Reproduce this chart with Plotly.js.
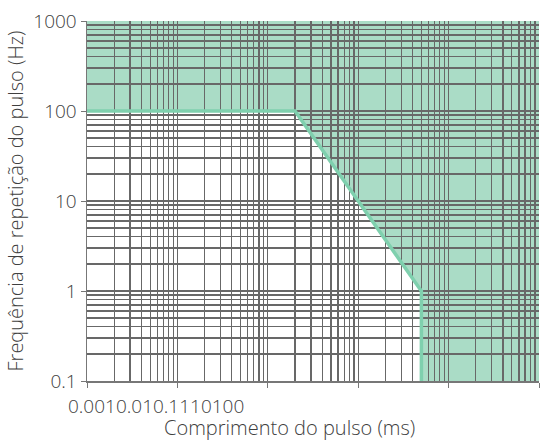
<!DOCTYPE html>
<html>
<head>
<meta charset="utf-8">
<script src="https://cdn.plot.ly/plotly-3.0.1.min.js"></script>
<style>
  html, body { margin: 0; padding: 0; background: #fff; }
  #chart { width: 543px; height: 440px; }
</style>
</head>
<body>
<div id="chart"></div>
<script>
// limite do pulso (ms x Hz)
const limitX = [0.001, 0.2, 5, 5];
const limitY = [100, 100, 1, 0.1];

// extremos dos eixos
const xMin = 0.001, xMax = 100;
const yMin = 0.1, yMax = 1000;

const xTicks = [0.001, 0.01, 0.1, 1, 10, 100];
const xTickLabels = ['0.001', '0.01', '0.1', '1', '10', '100'];
const yTicks = [0.1, 1, 10, 100, 1000];
const yTickLabels = ['0.1', '1', '10', '100', '1000'];

// grade secundaria 2..9 em cada decada
function minors(ticks) {
    const out = [];
    for (let i = 0; i < ticks.length - 1; i++) {
        for (let m = 2; m <= 9; m++) out.push(ticks[i] * m);
    }
    return out;
}

const fontFam = '"Open Sans", Lato, sans-serif';
const txt = '#404040';
const grid = '#686868';
const fnt = { family: fontFam, color: txt, size: 19, weight: 300 };
const titleFnt = { family: fontFam, color: txt, size: 20, weight: 300 };

// area verde: acima da curva limite
const regX = limitX.concat([xMax, xMax, xMin]);
const regY = limitY.concat([yMin, yMax, yMax]);
let path = '';
for (let i = 0; i < regX.length; i++) {
    path += (i === 0 ? 'M' : 'L') + regX[i] + ',' + regY[i];
}
path += 'Z';

const traces = [{
    x: limitX,
    y: limitY,
    mode: 'lines',
    type: 'scatter',
    line: { color: '#7fd0ae', width: 3.5 },
    hoverinfo: 'skip'
}];

const layout = {
    width: 543,
    height: 440,
    margin: { l: 87, r: 4, t: 21, b: 59 },
    paper_bgcolor: '#fff',
    plot_bgcolor: '#fff',
    showlegend: false,
    font: fnt,
    xaxis: {
        type: 'log',
        range: [Math.log10(xMin), Math.log10(xMax)],
        tickmode: 'array',
        tickvals: xTicks,
        ticktext: xTicks.map(() => ''),
        showticklabels: false,
        ticks: 'outside',
        ticklen: 5,
        tickcolor: '#777',
        showline: true,
        linecolor: '#777',
        linewidth: 1.5,
        showgrid: true,
        gridcolor: grid,
        gridwidth: 1.3,
        minor: { tickvals: minors(xTicks), showgrid: true, gridcolor: grid, gridwidth: 1.3, ticks: '' },
        zeroline: false,
        fixedrange: true
    },
    yaxis: {
        type: 'log',
        range: [Math.log10(yMin), Math.log10(yMax)],
        tickmode: 'array',
        tickvals: yTicks,
        ticktext: yTickLabels,
        ticks: 'outside',
        ticklen: 5,
        tickcolor: '#777',
        tickfont: fnt,
        showline: true,
        linecolor: '#777',
        linewidth: 1.5,
        showgrid: true,
        gridcolor: grid,
        gridwidth: 1.3,
        minor: { tickvals: minors(yTicks), showgrid: true, gridcolor: grid, gridwidth: 1.3, ticks: '' },
        zeroline: false,
        title: { text: 'Frequência de repetição do pulso (Hz)', font: titleFnt, standoff: 4 },
        fixedrange: true
    },
    shapes: [{
        type: 'path',
        xref: 'x',
        yref: 'y',
        path: path,
        fillcolor: '#aadcc6',
        line: { width: 0 },
        layer: 'below'
    }],
    annotations: [{
        // rotulos do eixo x, colados como no original
        text: xTickLabels.join(''),
        xref: 'paper', yref: 'paper',
        x: -0.046, y: 0,
        xanchor: 'left', yanchor: 'middle',
        yshift: -25,
        showarrow: false,
        font: fnt
    }, {
        text: 'Comprimento do pulso (ms)',
        xref: 'paper', yref: 'paper',
        x: 0.447, y: 0,
        xanchor: 'center', yanchor: 'middle',
        yshift: -46,
        showarrow: false,
        font: titleFnt
    }]
};

Plotly.newPlot('chart', traces, layout, { displayModeBar: false, staticPlot: true });
</script>
</body>
</html>
